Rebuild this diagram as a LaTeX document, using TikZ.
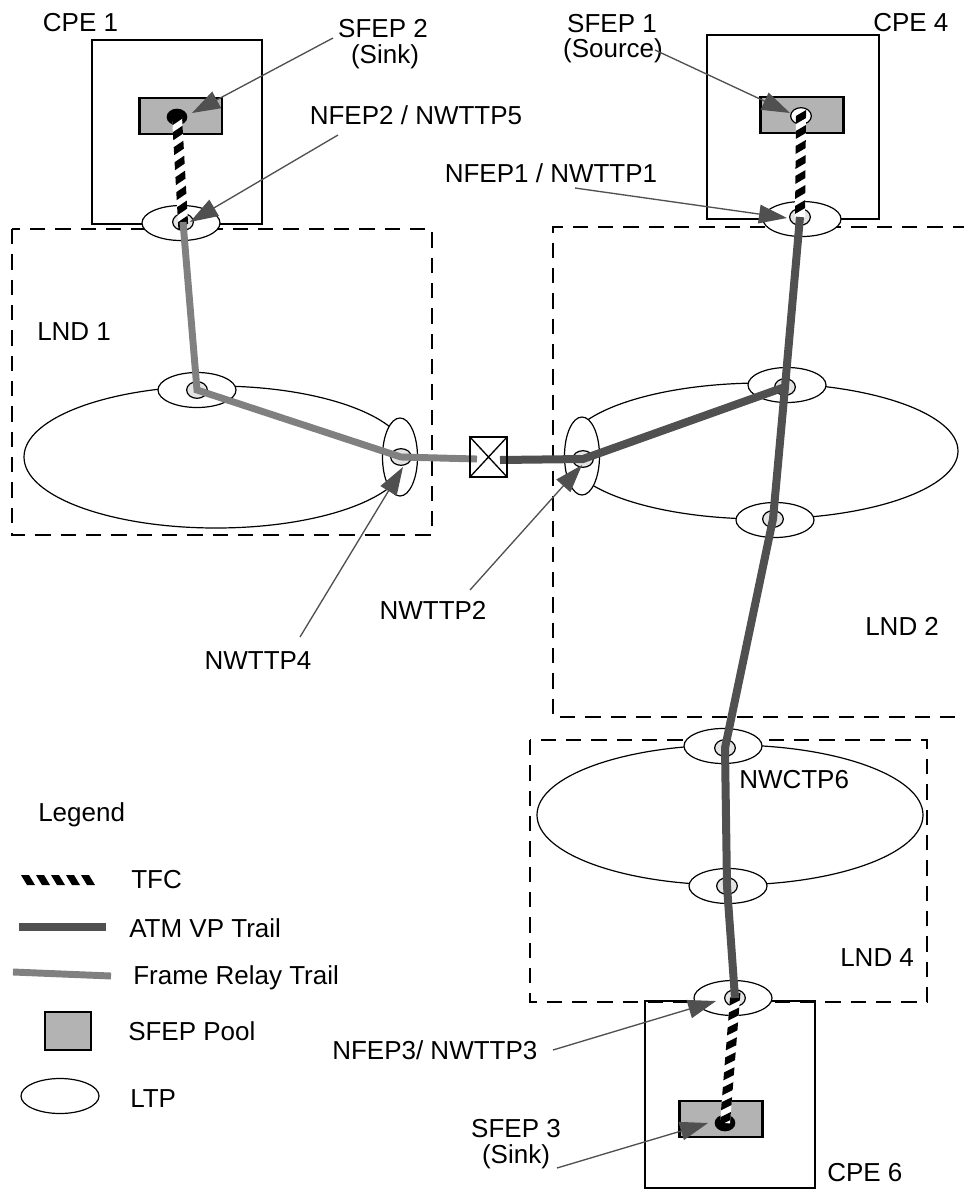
\documentclass[tikz,border=0pt]{standalone}
\usepackage{fontspec}
\setmainfont{Liberation Sans}
\usetikzlibrary{shapes.geometric,arrows.meta,decorations.markings}
\definecolor{frgray}{RGB}{128,128,128}
\definecolor{atmgray}{RGB}{80,80,80}
\definecolor{arrgray}{RGB}{80,80,80}
\definecolor{poolgray}{RGB}{179,179,179}
\definecolor{tpgray}{RGB}{228,228,228}
\begin{document}
\begin{tikzpicture}[x=0.75pt,y=-0.75pt,
 lbl/.style={inner sep=0pt, font=\fontsize{19.5pt}{22pt}\selectfont},
 ltp/.style={ellipse, draw, fill=white, line width=0.9pt, minimum width=58.5pt, minimum height=26.25pt, inner sep=0pt},
 ltpv/.style={ltp, minimum width=26.25pt, minimum height=58.5pt},
 tp/.style={ellipse, draw, fill=tpgray, line width=0.9pt, minimum width=15.5pt, minimum height=12.5pt, inner sep=0pt},
 sinkdot/.style={ellipse, fill=black, minimum width=15.5pt, minimum height=12.5pt, inner sep=0pt},
 pool/.style={rectangle, draw, fill=poolgray, line width=2pt, minimum width=62pt, minimum height=27pt, inner sep=0pt},
 cpe/.style={rectangle, draw, line width=1pt, minimum width=127.5pt, minimum height=138pt, inner sep=0pt},
 netell/.style={ellipse, draw, line width=0.9pt, inner sep=0pt},
 lnd/.style={draw, line width=1.1pt, dash pattern=on 11.5pt off 7.5pt},
 fr/.style={draw=frgray, line width=5.2pt},
 atm/.style={draw=atmgray, line width=6pt},
 tfcbase/.style={draw=white, line width=7.5pt},
 tfcstripes/.style={decoration={markings, mark=between positions 0 and 1 step 11.25pt with {\fill[black] (-6,-5) -- (2,-5) -- (8,5) -- (0,5) -- cycle;}}, decorate},
 callout/.style={draw=arrgray, line width=1pt, -{Triangle[length=21pt,width=14pt]}},
]
\useasboundingbox (0,0) rectangle (964,1190);

% LND domains (dashed)
\draw[lnd] (12,229) rectangle (432,535);
\draw[lnd] (968,227) -- (553,227) -- (553,717) -- (968,717);
\draw[lnd] (530,740) rectangle (927,1002);

% CPE boxes
\node[cpe] (cpe1) at (177,132) {};
\node[cpe, minimum width=129pt] (cpe4) at (793,127) {};
\node[cpe, minimum height=140.25pt] (cpe6) at (730,1094.5) {};

% subnetwork ellipses
\node[netell, minimum width=288pt, minimum height=106.5pt] (dom1) at (216,457) {};
\node[netell, minimum width=294pt, minimum height=102pt] (dom2) at (762,451) {};
\node[netell, minimum width=289.5pt, minimum height=105pt] (dom4) at (730,815) {};

% SFEP pools
\node[pool] (pool1) at (180.5,116) {};
\node[pool] (pool4) at (802,115) {};
\node[pool] (pool6) at (721,1119) {};

% SFEPs
\node[sinkdot] (sink2) at (177,117) {};
\node[tp, fill=white] (src1) at (801,116) {};
\node[sinkdot] (sink3) at (725,1123) {};

% LTPs
\node[ltp] (ltpN2) at (181,223) {};
\node[ltp] (ltp1t) at (197,390) {};
\node[ltpv] (ltp1v) at (400,457) {};
\node[ltpv] (ltp2v) at (582,456) {};
\node[ltp] (ltp2t) at (787,385) {};
\node[ltp] (ltp2b) at (775,520) {};
\node[ltp] (ltpN1) at (802,219) {};
\node[ltp] (ltp4t) at (723,746) {};
\node[ltp] (ltp4b) at (728,886) {};
\node[ltp] (ltpN3) at (733,998) {};

% termination points
\node[tp] (tpN2) at (183,222) {};
\node[tp] (tp1t) at (197,390) {};
\node[tp] (tp1v) at (401,457) {};
\node[tp] (tp2v) at (583,459) {};
\node[tp] (tp2t) at (785,387) {};
\node[tp] (tp2b) at (773,519) {};
\node[tp] (tpN1) at (800,217) {};
\node[tp] (tp4t) at (725,748) {};
\node[tp] (tp4b) at (727,886) {};
\node[tp] (tpN3) at (735,998) {};

% TFCs
\draw[tfcbase] (sink2.center) -- (tpN2.center);
\path[tfcstripes] (sink2.center) -- (tpN2.center);
\draw[tfcbase] (src1.center) -- (tpN1.center);
\path[tfcstripes] (src1.center) -- (tpN1.center);
\draw[tfcbase] (tpN3.center) -- (sink3.center);
\path[tfcstripes] (tpN3.center) -- (sink3.center);

% trails
\coordinate (frEnd) at (477,459);
\coordinate (atmStart) at (500,460);
\draw[fr] (tpN2.center) -- (tp1t.center) -- (tp1v.center) -- (frEnd);
\draw[atm] (atmStart) -- (tp2v.center) -- (tp2t.center);
\draw[atm] (tpN1.center) -- (tp2t.center) -- (tp2b.center) -- (tp4t.center) -- (tp4b.center) -- (tpN3.center);

% cross connection
\node[rectangle, draw, line width=1.1pt, minimum width=27.75pt, minimum height=30pt, inner sep=0pt] (xc) at (488.5,457) {};
\draw[line width=1pt] (xc.north west) -- (xc.south east) (xc.north east) -- (xc.south west);

% labels
\node[lbl, anchor=base] (lcpe1) at (80.5,31) {CPE 1};
\node[lbl, anchor=base] (lsfep2) at (383,37) {SFEP 2};
\node[lbl, anchor=base] (lsfep2b) at (385,63) {(Sink)};
\node[lbl, anchor=base] (lsfep1) at (612,32) {SFEP 1};
\node[lbl, anchor=base] (lsfep1b) at (613,57) {(Source)};
\node[lbl, anchor=base west] (lcpe4) at (873,31) {CPE 4};
\node[lbl, anchor=base] (lnfep2) at (416,124) {NFEP2 / NWTTP5};
\node[lbl, anchor=base] (lnfep1) at (551,182) {NFEP1 / NWTTP1};
\node[lbl, anchor=base west] (llnd1) at (37,340) {LND 1};
\node[lbl, anchor=base] (lnwttp4) at (258,669) {NWTTP4};
\node[lbl, anchor=base] (lnwttp2) at (433,619) {NWTTP2};
\node[lbl, anchor=base west] (llnd2) at (865,635) {LND 2};
\node[lbl, anchor=base west] (lnwctp6) at (739,788) {NWCTP6};
\node[lbl, anchor=base west] (llnd4) at (840,966) {LND 4};
\node[lbl, anchor=base west] (lnfep3) at (332,1059) {NFEP3/ NWTTP3};
\node[lbl, anchor=base] (lsfep3) at (516,1137) {SFEP 3};
\node[lbl, anchor=base] (lsfep3b) at (516,1163) {(Sink)};
\node[lbl, anchor=base west] (lcpe6) at (827,1181) {CPE 6};

% legend
\node[lbl, anchor=base west] (lleg) at (38,821) {Legend};
\coordinate (legT1) at (27,880);
\coordinate (legT2) at (101,880);
\path[tfcstripes] (legT1) -- (legT2);
\node[lbl, anchor=base west] (ltfc) at (131,888) {TFC};
\coordinate (legA1) at (19,927);
\coordinate (legA2) at (106,927);
\draw[atm] (legA1) -- (legA2);
\node[lbl, anchor=base west] (latm) at (129,937) {ATM VP Trail};
\coordinate (legF1) at (13,972);
\coordinate (legF2) at (111,976);
\draw[fr] (legF1) -- (legF2);
\node[lbl, anchor=base west] (lfr) at (133,984) {Frame Relay Trail};
\node[pool, minimum width=34.5pt, minimum height=28.5pt] (legpool) at (68,1031) {};
\node[lbl, anchor=base west] (lpool) at (128,1040) {SFEP Pool};
\node[ltp] (legltp) at (60,1096) {};
\node[lbl, anchor=base west] (lltp) at (130,1107) {LTP};

% callouts
\coordinate (c1s) at (333,38);   \coordinate (c1t) at (192,113);
\coordinate (c2s) at (338,135);  \coordinate (c2t) at (190,222);
\coordinate (c3s) at (655,50);   \coordinate (c3t) at (790,113);
\coordinate (c4s) at (575,188);  \coordinate (c4t) at (787,218);
\coordinate (c5s) at (300,637);  \coordinate (c5t) at (403,467);
\coordinate (c6s) at (470,590);  \coordinate (c6t) at (582,465);
\coordinate (c7s) at (553,1050); \coordinate (c7t) at (716,1001);
\coordinate (c8s) at (557,1168); \coordinate (c8t) at (708,1123);
\draw[callout] (c1s) -- (c1t);
\draw[callout] (c2s) -- (c2t);
\draw[callout] (c3s) -- (c3t);
\draw[callout] (c4s) -- (c4t);
\draw[callout] (c5s) -- (c5t);
\draw[callout] (c6s) -- (c6t);
\draw[callout] (c7s) -- (c7t);
\draw[callout] (c8s) -- (c8t);
\end{tikzpicture}
\end{document}
